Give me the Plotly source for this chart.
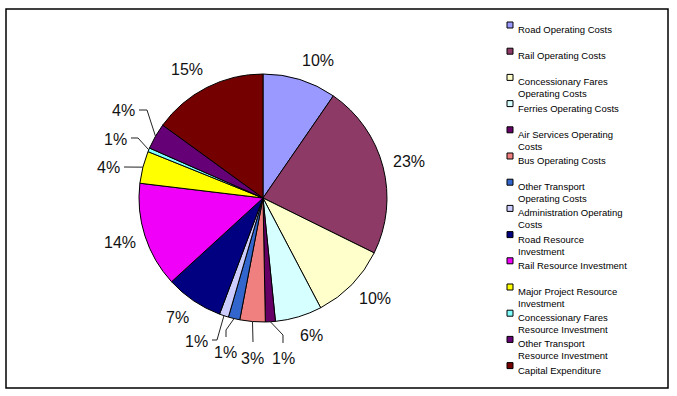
import math
import plotly.graph_objects as go

# ---------------- data ----------------
categories = [
    "Road Operating Costs", "Rail Operating Costs", "Concessionary Fares Operating Costs",
    "Ferries Operating Costs", "Air Services Operating Costs", "Bus Operating Costs",
    "Other Transport Operating Costs", "Administration Operating Costs",
    "Road Resource Investment", "Rail Resource Investment",
    "Major Project Resource Investment", "Concessionary Fares Resource Investment",
    "Other Transport Resource Investment", "Capital Expenditure",
]
values = [9.6, 22.7, 10.0, 6.1, 1.3, 3.3, 1.5, 1.2, 7.5, 13.7, 4.2, 0.5, 3.4, 15.0]
pct_labels = ["10%", "23%", "10%", "6%", "1%", "3%", "1%", "1%", "7%", "14%", "4%", "1%", "4%", "15%"]
legend_names = [
    "Road Operating Costs", "Rail Operating Costs", "Concessionary Fares<br>Operating Costs",
    "Ferries Operating Costs", "Air Services Operating<br>Costs", "Bus Operating Costs",
    "Other Transport<br>Operating Costs", "Administration Operating<br>Costs",
    "Road Resource<br>Investment", "Rail Resource Investment",
    "Major Project Resource<br>Investment", "Concessionary Fares<br>Resource Investment",
    "Other Transport<br>Resource Investment", "Capital Expenditure",
]
colors = ["#9999FF", "#8E3A66", "#FFFFCC", "#D6FFFF", "#660066", "#F08080", "#3366CC",
          "#CCCCFF", "#000080", "#F000F8", "#FFFF00", "#80FFFF", "#660077", "#740000"]

# ---------------- layout helpers ----------------
W, H = 677, 396
CX, CY, R = 263, 198, 124
FONT = "Liberation Sans, Arial, sans-serif"


def px(x):
    return x / W


def py(y):
    return 1 - y / H


fig = go.Figure(go.Pie(
    labels=categories, values=values, sort=False, direction="clockwise", rotation=0,
    marker=dict(colors=colors, line=dict(color="black", width=1)),
    textinfo="none", hoverinfo="label+percent", showlegend=False,
    domain=dict(x=[px(CX - R), px(CX + R)], y=[py(CY + R), py(CY - R)]),
))

total = sum(values)
cum = 0.0
mids = []
for v in values:
    mids.append((cum + v / 2) / total * 2 * math.pi)
    cum += v

# callout (leader line) layout for the small slices, in pixels
callouts = {
    4: dict(path=[(283, 335), (283, 343)], text=(283, 358, "center")),
    5: dict(path=[(253, 342)], text=(252, 358, "center")),
    6: dict(path=[(226, 330), (226, 337)], text=(226, 352, "center")),
    7: dict(path=[(217, 340), (212, 340)], text=(210, 341, "right")),
    10: dict(path=[(124, 167)], text=(122, 167, "right")),
    11: dict(path=[(138, 138), (131, 138)], text=(129, 139, "right")),
    12: dict(path=[(147, 110), (139, 110)], text=(137, 111, "right")),
}

annotations = []
shapes = []
LABEL_FS = 16
for i, (a, txt) in enumerate(zip(mids, pct_labels)):
    s, c = math.sin(a), math.cos(a)
    if i in callouts:
        co = callouts[i]
        ex, ey = CX + R * s, CY - R * c
        pts = [(ex, ey)] + co["path"]
        d = "M " + " L ".join(f"{px(x):.5f},{py(y):.5f}" for x, y in pts)
        shapes.append(dict(type="path", xref="paper", yref="paper", path=d,
                           line=dict(color="#222222", width=1)))
        tx, ty, anc = co["text"]
        annotations.append(dict(x=px(tx), y=py(ty), xref="paper", yref="paper", text=txt,
                                showarrow=False, xanchor=anc, yanchor="middle",
                                font=dict(family=FONT, size=LABEL_FS, color="#111111")))
    else:
        rr = R + 11
        hw = len(txt) * 0.5 * LABEL_FS * 0.62
        hh = 9
        x = CX + rr * s + hw * max(-1, min(1, s * 3.5))
        y = CY - rr * c - hh * c
        annotations.append(dict(x=px(x), y=py(y), xref="paper", yref="paper", text=txt,
                                showarrow=False, xanchor="center", yanchor="middle",
                                font=dict(family=FONT, size=LABEL_FS, color="#111111")))

# custom legend
LEG_TOP, LEG_STEP = 22, 26.2
for i, (name, col) in enumerate(zip(legend_names, colors)):
    top = LEG_TOP + LEG_STEP * i
    shapes.append(dict(type="rect", xref="paper", yref="paper",
                       x0=px(507), x1=px(513), y0=py(top), y1=py(top + 6),
                       fillcolor=col, line=dict(color="black", width=1)))
    annotations.append(dict(x=px(516), y=py(top), xref="paper", yref="paper", text=name,
                            showarrow=False, xanchor="left", yanchor="top", align="left",
                            font=dict(family=FONT, size=9.5, color="#000000")))

# outer border
shapes.append(dict(type="rect", xref="paper", yref="paper",
                   x0=px(6), x1=px(668), y0=py(388), y1=py(9),
                   line=dict(color="black", width=1.5)))

fig.update_layout(
    width=W, height=H, margin=dict(l=0, r=0, t=0, b=0),
    paper_bgcolor="white", plot_bgcolor="white",
    annotations=annotations, shapes=shapes, showlegend=False,
)
fig.write_html("out.html", config={"displayModeBar": False},
               post_script="document.body.style.margin='0px';")
